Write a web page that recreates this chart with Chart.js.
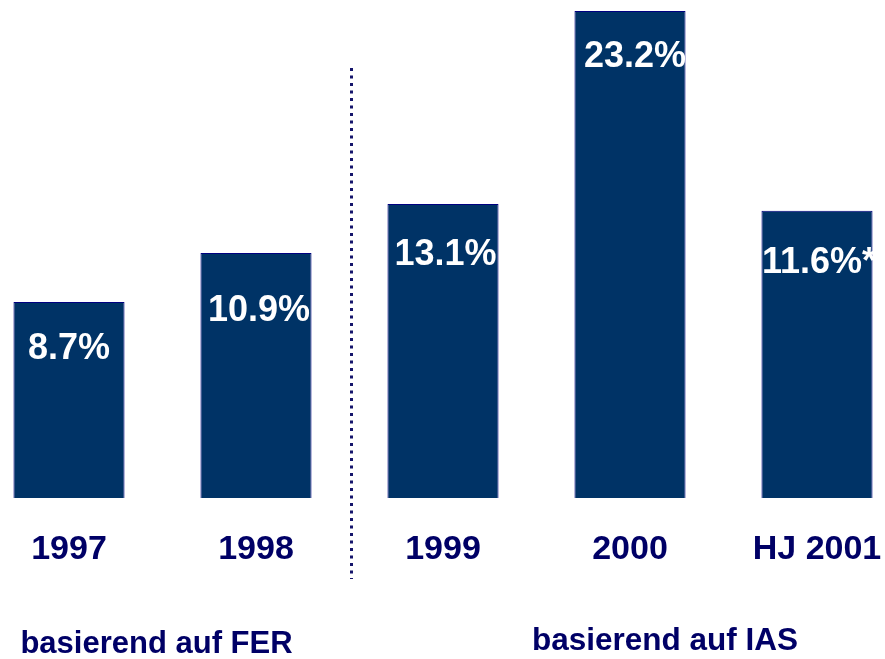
<!DOCTYPE html>
<html>
<head>
<meta charset="utf-8">
<script src="https://cdn.jsdelivr.net/npm/chart.js@4/dist/chart.umd.min.js"></script>
<style>
  html, body { margin: 0; padding: 0; background: #fff; }
  #wrap { width: 885px; height: 659px; }
</style>
</head>
<body>
<div id="wrap"><canvas id="chart"></canvas></div>
<script>
// === Daten ===
const categories = ["1997", "1998", "1999", "2000", "HJ 2001"];
// Balkenhöhen (in %-Einheiten)
const barHeights = [8.71, 10.89, 13.07, 21.64, 12.76];
const valueLabels = ["8.7%", "10.9%", "13.1%", "23.2%", "11.6%*"];
const groupNotes = ["basierend auf FER", "basierend auf IAS"];

// Lage der Wertbeschriftung relativ zur Balkenoberkante (px)
const labelDx = [0, 3, 2.5, 5, 2];
const labelDy = [47, 58, 51.5, 46, 52.7];

const navy = "#000066";
const barFill = "#003366";
const fontFamily = "'Liberation Sans', Arial, sans-serif";

// Werte in die Balken schreiben, Trennlinie und Fußnoten
const extras = {
  id: "extras",
  afterDatasetsDraw(chart) {
    const ctx = chart.ctx;
    const meta = chart.getDatasetMeta(0);
    const x = chart.scales.x;

    ctx.save();
    ctx.fillStyle = "#fff";
    ctx.font = "bold 36px " + fontFamily;
    ctx.textAlign = "center";
    ctx.textBaseline = "middle";
    meta.data.forEach((bar, i) => {
      // Text wird wie im Original an der Balkenkante abgeschnitten
      ctx.save();
      ctx.beginPath();
      ctx.rect(bar.x - bar.width / 2, bar.y, bar.width + 1, bar.base - bar.y);
      ctx.clip();
      ctx.fillText(valueLabels[i], bar.x + labelDx[i], bar.y + labelDy[i]);
      ctx.restore();
    });

    // gepunktete Trennlinie zwischen FER und IAS
    const sepX = Math.round((x.getPixelForValue(1) + x.getPixelForValue(2)) / 2) + 1.5;
    ctx.strokeStyle = "#15156b";
    ctx.lineWidth = 3;
    ctx.setLineDash([3, 4.5]);
    ctx.beginPath();
    ctx.moveTo(sepX, 68);
    ctx.lineTo(sepX, 579);
    ctx.stroke();
    ctx.setLineDash([]);

    // Fußnoten
    ctx.fillStyle = navy;
    ctx.font = "bold 31px " + fontFamily;
    ctx.fillText(groupNotes[0], (x.getPixelForValue(0) + x.getPixelForValue(1)) / 2 - 6, 644);
    ctx.font = "bold 31.5px " + fontFamily;
    ctx.fillText(groupNotes[1], x.getPixelForValue(3) + 35, 641);
    ctx.restore();
  }
};

const ctx = document.getElementById("chart").getContext("2d");
new Chart(ctx, {
  type: "bar",
  data: {
    labels: categories,
    datasets: [{
      data: barHeights,
      backgroundColor: barFill,
      borderColor: "#000080",
      borderWidth: 1,
      barPercentage: 1,
      categoryPercentage: 0.594,
      clip: false
    }]
  },
  options: {
    responsive: true,
    maintainAspectRatio: false,
    animation: false,
    layout: { padding: { left: 69, right: 68, top: 0, bottom: 86 } },
    plugins: {
      legend: { display: false },
      tooltip: { enabled: false }
    },
    scales: {
      x: {
        offset: false,
        grid: { display: false, drawTicks: false },
        border: { display: false },
        ticks: {
          color: navy,
          font: { family: fontFamily, size: 34, weight: "bold" },
          padding: 31,
          maxRotation: 0,
          autoSkip: false
        },
        afterFit(scale) {
          // keine zusätzliche Randpolsterung für die äußeren Beschriftungen
          scale.paddingLeft = 0;
          scale.paddingRight = 0;
          scale.height = 75;
        }
      },
      y: {
        display: false,
        min: 0,
        max: 22.13
      }
    }
  },
  plugins: [extras]
});
</script>
</body>
</html>
